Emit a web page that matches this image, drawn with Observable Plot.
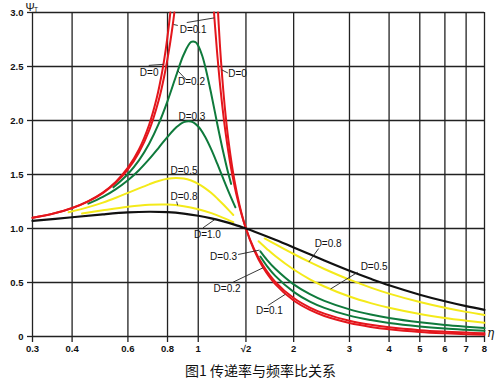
<!DOCTYPE html>
<html><head><meta charset="utf-8">
<script src="https://cdn.jsdelivr.net/npm/d3@7"></script>
<script src="https://cdn.jsdelivr.net/npm/@observablehq/plot@0.6"></script>
<style>
html,body{margin:0;padding:0;background:#fff;width:501px;height:380px;overflow:hidden;position:relative}
#caption{position:absolute;left:185px;top:362px;font-family:"Noto Sans CJK SC";font-size:14px;line-height:16px;color:#111;white-space:nowrap}
</style></head><body>
<div id="chart"></div>
<div id="caption">图1 传递率与频率比关系</div>
<script>
// ---- tick values & labels ----
const xTicks = [0.3, 0.4, 0.6, 0.8, 1, Math.SQRT2, 2, 3, 4, 5, 6, 7, 8];
const xTickLabels = ["0.3","0.4","0.6","0.8","1","√2","2","3","4","5","6","7","8"];
const yTicks = [0, 0.5, 1, 1.5, 2, 2.5, 3];
const yTickLabels = ["0","0.5","1.0","1.5","2.0","2.5","3.0"];

// ---- curves: [η, Ψ] ----
const d0Left = [[0.3,1.099],[0.35,1.140],[0.4,1.190],[0.45,1.254],[0.5,1.333],[0.55,1.434],[0.6,1.563],[0.65,1.732],[0.7,1.961],[0.74,2.210],[0.77,2.456],[0.79,2.660],[0.81,2.908],[0.8165,3.0]];
const d0Right = [[1.1547,3.0],[1.16,2.894],[1.17,2.711],[1.18,2.548],[1.2,2.273],[1.22,2.048],[1.25,1.778],[1.3,1.449],[1.35,1.216],[1.414,1.0],[1.5,0.8],[1.6,0.641],[1.75,0.485],[2,0.333],[2.25,0.246],[2.5,0.190],[3,0.125],[3.5,0.089],[4,0.067],[5,0.042],[6,0.029],[7,0.021],[8,0.016]];
const d01Left = [[0.3,1.099],[0.35,1.139],[0.4,1.189],[0.45,1.251],[0.5,1.328],[0.55,1.425],[0.6,1.547],[0.65,1.704],[0.7,1.909],[0.75,2.186],[0.78,2.401],[0.81,2.665],[0.83,2.875],[0.8407,3.0]];
const d01Right = [[1.1215,3.0],[1.13,2.868],[1.15,2.590],[1.18,2.244],[1.22,1.885],[1.27,1.555],[1.33,1.272],[1.414,1.0],[1.5,0.812],[1.6,0.659],[1.75,0.506],[2,0.356],[2.25,0.268],[2.5,0.212],[3,0.145],[3.5,0.108],[4,0.085],[5,0.059],[6,0.045],[7,0.036],[8,0.030]];
const d02Left = [[0.54,1.381],[0.6,1.505],[0.65,1.631],[0.7,1.785],[0.75,1.968],[0.8,2.180],[0.85,2.407],[0.9,2.611],[0.95,2.727],[0.98,2.726],[1.0,2.693],[1.03,2.597],[1.06,2.459],[1.1,2.241],[1.15,1.959],[1.2,1.703],[1.235,1.547],[1.27,1.413]];
const d02Right = [[1.57,0.741],[1.65,0.650],[1.75,0.561],[2,0.413],[2.25,0.323],[2.5,0.265],[3,0.193],[3.5,0.152],[4,0.125],[5,0.093],[6,0.074],[7,0.062],[8,0.053]];
const d03Left = [[0.45,1.230],[0.5,1.292],[0.55,1.365],[0.6,1.447],[0.65,1.540],[0.7,1.642],[0.75,1.747],[0.8,1.849],[0.85,1.933],[0.9,1.985],[0.95,1.990],[1.0,1.944],[1.05,1.852],[1.1,1.730],[1.15,1.595],[1.2,1.460],[1.25,1.333],[1.31,1.196]];
const d03Right = [[1.57,0.789],[1.65,0.708],[1.75,0.627],[2,0.483],[2.25,0.392],[2.5,0.330],[3,0.251],[3.5,0.203],[4,0.171],[5,0.131],[6,0.106],[7,0.090],[8,0.078]];
const d05Left = [[0.39,1.150],[0.45,1.198],[0.5,1.240],[0.55,1.285],[0.6,1.330],[0.65,1.372],[0.7,1.409],[0.75,1.440],[0.8,1.460],[0.85,1.468],[0.9,1.463],[0.95,1.444],[1.0,1.414],[1.05,1.374],[1.1,1.328],[1.15,1.276],[1.2,1.222],[1.25,1.168],[1.29,1.125]];
const d05Right = [[1.55,0.882],[1.65,0.809],[1.75,0.745],[2,0.620],[2.25,0.530],[2.5,0.463],[3,0.370],[3.5,0.309],[4,0.266],[5,0.208],[6,0.171],[7,0.146],[8,0.127]];
const d08Left = [[0.43,1.138],[0.5,1.168],[0.6,1.201],[0.7,1.220],[0.8,1.222],[0.9,1.207],[1.0,1.179],[1.1,1.142],[1.2,1.099],[1.29,1.058]];
const d08Right = [[1.62,0.908],[1.75,0.855],[2,0.764],[2.25,0.688],[2.5,0.625],[3,0.526],[3.5,0.453],[4,0.397],[5,0.319],[6,0.266],[7,0.228],[8,0.200]];
const d10 = [[0.3,1.070],[0.4,1.104],[0.5,1.131],[0.6,1.149],[0.7,1.155],[0.8,1.151],[0.9,1.138],[1.0,1.118],[1.1,1.094],[1.2,1.066],[1.3,1.036],[1.414,1.0],[1.5,0.973],[1.75,0.896],[2,0.825],[2.5,0.703],[3,0.608],[3.5,0.534],[4,0.474],[5,0.387],[6,0.326],[7,0.281],[8,0.247]];

// ---- annotations ----
const labelText = ["D=0.1","D=0","D=0","D=0.2","D=0.3","D=0.5","D=0.8","D=1.0","D=0.3","D=0.2","D=0.1","D=0.8","D=0.5"];
const labelEta  = [0.964, 0.700, 1.331, 0.952, 0.955, 0.902, 0.902, 1.069, 1.202, 1.233, 1.677, 2.569, 3.588];
const labelPsi  = [2.843, 2.444, 2.435, 2.356, 2.037, 1.537, 1.292, 0.944, 0.738, 0.442, 0.241, 0.856, 0.645];
const leaderFrom = [[0.836,2.889],[0.920,2.907],[0.698,2.51],[1.185,2.47],[0.862,2.46],[0.855,1.25],[1.035,1.006],[1.336,0.759],[1.288,0.503],[1.658,0.287],[2.233,0.69],[2.615,0.44]];
const leaderTo   = [[0.862,2.88],[1.123,2.95],[0.776,2.52],[1.24,2.44],[0.914,2.382],[0.861,1.215],[1.13,1.085],[1.56,0.80],[1.601,0.636],[1.881,0.39],[2.399,0.815],[3.185,0.595]];

// ---- build tables ----
const groups = {
  yellow: [["0.5a", d05Left], ["0.5b", d05Right], ["0.8a", d08Left], ["0.8b", d08Right]],
  green:  [["0.2a", d02Left], ["0.2b", d02Right], ["0.3a", d03Left], ["0.3b", d03Right]],
  red:    [["0a", d0Left], ["0b", d0Right], ["0.1a", d01Left], ["0.1b", d01Right]],
  black:  [["1.0", d10]]
};
const colors = {yellow: "#f4ea1a", green: "#0f7a3c", red: "#e4161c", black: "#111111"};
function rows(list) {
  const out = [];
  for (const [seg, pts] of list) for (const [eta, psi] of pts) out.push({seg, eta, psi});
  return out;
}
const labels = labelText.map((t, i) => ({text: t, eta: labelEta[i], psi: labelPsi[i]}));
const leaders = leaderFrom.map((f, i) => ({x1: f[0], y1: f[1], x2: leaderTo[i][0], y2: leaderTo[i][1]}));
const xTickRows = xTicks.map((d, i) => ({v: d, label: xTickLabels[i]}));
const yLab = new Map(yTicks.map((d, i) => [d, yTickLabels[i]]));

const lineMarks = ["yellow", "green", "red", "black"].map(c =>
  Plot.line(rows(groups[c]), {x: "eta", y: "psi", z: "seg", stroke: colors[c], strokeWidth: c === "black" ? 2.2 : 2, curve: "catmull-rom"})
);

const chart = Plot.plot({
  width: 501, height: 362,
  marginLeft: 32, marginRight: 17, marginTop: 12, marginBottom: 26,
  style: {fontFamily: "'Liberation Sans', Arial, sans-serif", background: "#fff", color: "#111"},
  x: {type: "log", domain: [0.3, 8], label: null},
  y: {domain: [0, 3], label: null},
  marks: [
    Plot.ruleY(yTicks, {stroke: "#222", strokeWidth: 1.3}),
    Plot.ruleX(xTicks, {stroke: "#222", strokeWidth: 1.3}),
    Plot.axisY(yTicks, {tickSize: 5, tickPadding: 4, tickFormat: d => yLab.get(d), fontSize: 9.5, fontWeight: "bold", stroke: "#222", strokeWidth: 1.3, label: null}),
    Plot.axisX(xTicks, {tickSize: 6, tickPadding: 3, tickFormat: () => "", stroke: "#222", strokeWidth: 1.3, label: null}),
    Plot.text(xTickRows, {x: "v", text: "label", frameAnchor: "bottom", lineAnchor: "top", dy: 9, fontSize: 9.5, fontWeight: "bold", fill: "#111"}),
    ...lineMarks,
    Plot.link(leaders, {x1: "x1", y1: "y1", x2: "x2", y2: "y2", stroke: "#222", strokeWidth: 0.9}),
    Plot.text(labels, {x: "eta", y: "psi", text: "text", fontSize: 10, fill: "#111"}),
    Plot.text(["Ψ"], {frameAnchor: "top-left", lineAnchor: "middle", textAnchor: "middle", dx: -2.5, dy: -5.5, fontSize: 11, fill: "#111"}),
    Plot.text(["T"], {frameAnchor: "top-left", lineAnchor: "middle", textAnchor: "middle", dx: 3.5, dy: -3, fontSize: 6.5, fill: "#111"}),
    Plot.text(["η"], {frameAnchor: "bottom-right", lineAnchor: "middle", textAnchor: "middle", dx: 6, dy: -3, fontSize: 12, fontStyle: "italic", fontFamily: "DejaVu Serif", fill: "#111"})
  ]
});
document.getElementById("chart").appendChild(chart);
</script></body></html>
